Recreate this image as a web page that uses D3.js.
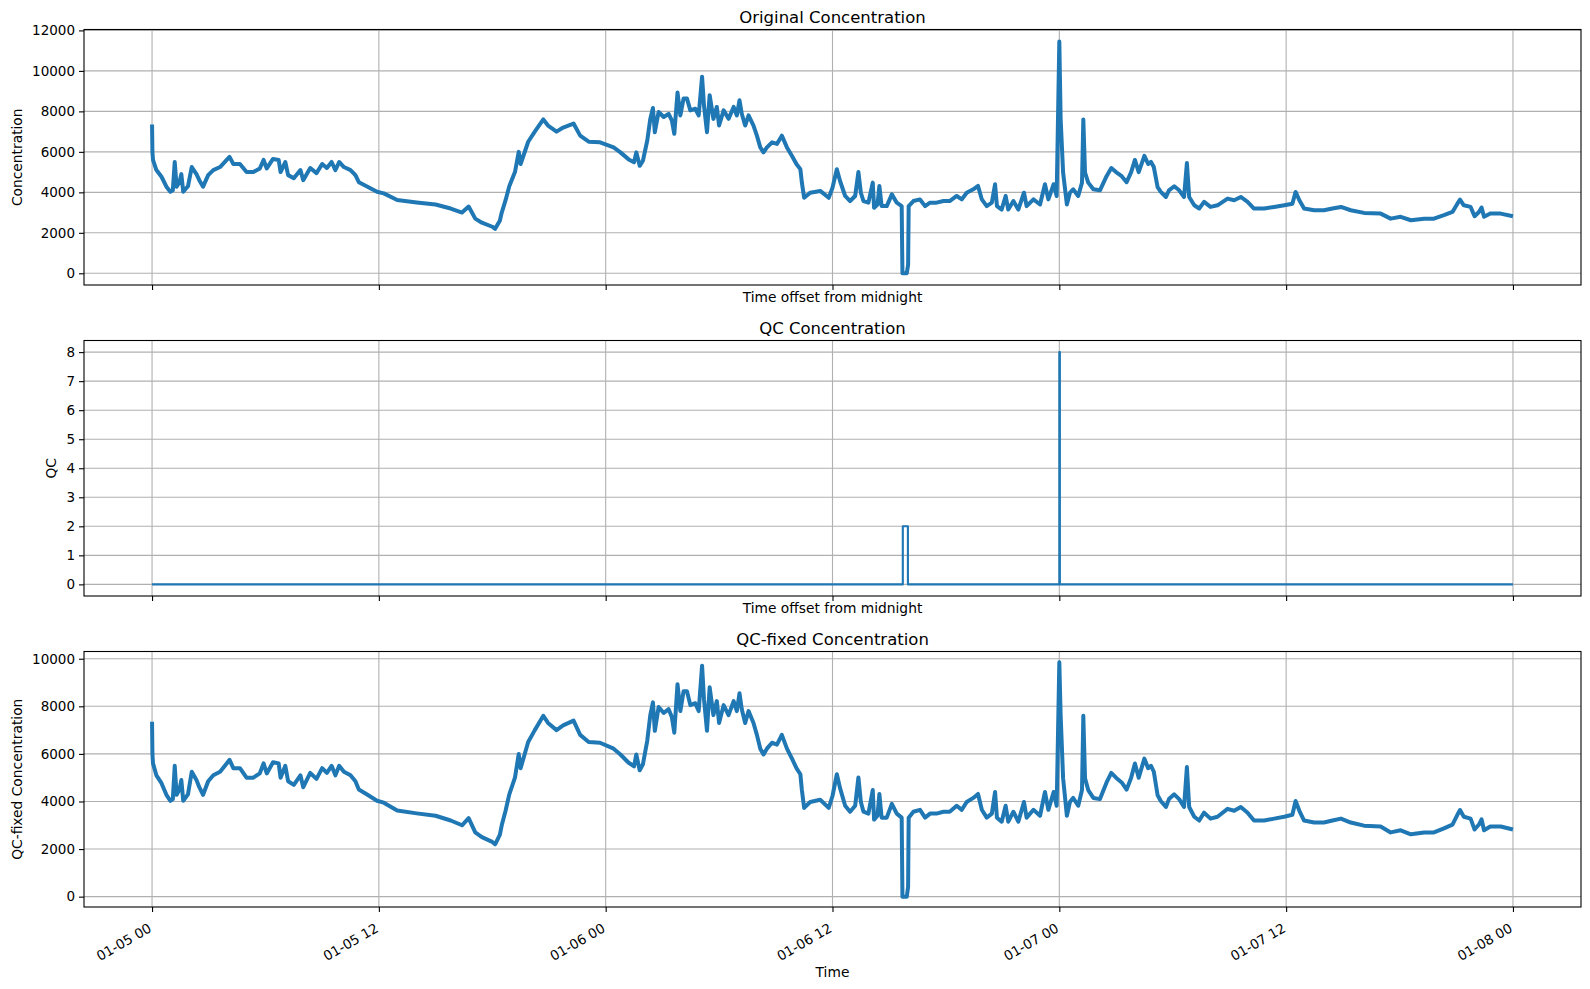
<!DOCTYPE html>
<html>
<head>
<meta charset="utf-8">
<script src="https://cdn.jsdelivr.net/npm/d3@7"></script>
<style>
  body { margin: 0; background: #fff; }
  svg { font-family: "DejaVu Sans", sans-serif; }
  .grid line { stroke: #b0b0b0; stroke-width: 1.1; }
  .tick line { stroke: #000; stroke-width: 1.1; }
  .series { fill: none; stroke: #1f77b4; stroke-linejoin: round; stroke-linecap: butt; }
</style>
</head>
<body>
<script>
// hours after 01-05 00:00
var hours = [0.00, 0.02, 0.05, 0.23, 0.50, 0.76, 0.97, 1.10, 1.20, 1.30, 1.45, 1.55, 1.65, 1.90, 2.10, 2.35, 2.50, 2.70, 2.97, 3.24,
  3.60, 3.95, 4.10, 4.30, 4.65, 5.00, 5.36, 5.70, 5.90, 6.07, 6.40, 6.70, 6.80, 7.05, 7.20, 7.50, 7.85, 8.00, 8.37, 8.70,
  9.00, 9.25, 9.50, 9.70, 9.90, 10.15, 10.50, 10.76, 10.94, 11.40, 11.90, 12.26, 12.97, 14.0, 15.0, 15.8, 16.4, 16.75, 17.1, 17.45,
  18.0, 18.15, 18.4, 18.5, 18.7, 18.9, 19.2, 19.4, 19.5, 19.9, 20.25, 20.7, 20.95, 21.4, 21.75, 22.3, 22.65, 23.1, 23.7, 24.42,
  24.78, 25.2, 25.5, 25.62, 25.8, 25.97, 26.2, 26.36, 26.5, 26.6, 26.8, 27.07, 27.33, 27.5, 27.63, 27.8, 27.95, 28.12, 28.3, 28.48,
  28.74, 28.92, 29.1, 29.2, 29.36, 29.5, 29.7, 29.88, 30.0, 30.24, 30.5, 30.77, 30.94, 31.08, 31.2, 31.38, 31.56, 31.82, 32.0, 32.18,
  32.35, 32.53, 32.8, 33.06, 33.32, 33.59, 33.85, 34.1, 34.3, 34.38, 34.5, 34.82, 35.35, 35.8, 36.0, 36.23, 36.4, 36.67, 36.93, 37.2,
  37.37, 37.5, 37.64, 37.9, 38.13, 38.2, 38.38, 38.48, 38.6, 38.87, 39.14, 39.4, 39.66, 39.7, 39.93, 40.0, 40.03, 40.28, 40.63, 40.9,
  41.16, 41.5, 41.87, 42.2, 42.57, 42.84, 43.1, 43.45, 43.7, 43.9, 44.16, 44.43, 44.6, 44.7, 44.95, 45.16, 45.3, 45.57, 45.83, 46.13,
  46.27, 46.63, 46.98, 47.24, 47.42, 47.7, 47.86, 48.0, 48.07, 48.2, 48.4, 48.56, 48.73, 49.0, 49.2, 49.27, 49.36, 49.53, 49.8, 50.15,
  50.5, 50.75, 51.0, 51.3, 51.56, 51.8, 52.0, 52.2, 52.5, 52.7, 52.85, 53.0, 53.2, 53.37, 53.64, 53.8, 54.08, 54.34, 54.6, 54.75,
  54.87, 55.14, 55.4, 55.66, 56.0, 56.37, 56.9, 57.25, 57.6, 57.96, 58.3, 58.84, 59.37, 59.9, 60.33, 60.5, 60.7, 60.95, 61.48, 62.0,
  62.45, 62.9, 63.42, 64.12, 65.0, 65.53, 66.06, 66.6, 67.3, 67.82, 68.35, 68.8, 69.06, 69.2, 69.4, 69.76, 69.97, 70.2, 70.34, 70.47,
  70.8, 71.35, 72.0];

var concentration = [7350, 6000, 5600, 5100, 4770, 4280, 4030, 4100, 5500, 4280, 4500, 4900, 4030, 4300, 5250, 4900, 4600, 4280, 4850, 5100,
  5250, 5600, 5750, 5400, 5400, 5000, 5000, 5180, 5600, 5180, 5650, 5600, 5000, 5500, 4850, 4700, 5100, 4600, 5200, 4950,
  5400, 5200, 5500, 5100, 5500, 5250, 5100, 4850, 4500, 4280, 4030, 3950, 3620, 3500, 3400, 3200, 3000, 3300, 2700, 2500,
  2300, 2200, 2600, 3000, 3600, 4300, 5000, 6000, 5400, 6500, 7000, 7600, 7300, 7000, 7200, 7400, 6800, 6500, 6470, 6220,
  5975, 5640, 5480, 5975, 5310, 5560, 6560, 7630, 8165, 6970, 7970, 7720, 7880, 7550, 6890, 8930, 7800, 8630, 8630, 8050,
  8130, 7800, 9710, 8300, 6970, 8800, 7630, 8220, 7300, 8050, 7630, 8220, 7800, 8550, 7880, 7300, 7800, 7300, 6800, 6220,
  5975, 6220, 6470, 6390, 6800, 6220, 5810, 5390, 5145, 4480, 3730, 3980, 4070, 3730, 4230, 5145, 4560, 3820, 3570, 3820,
  5010, 3980, 3570, 3490, 4480, 3240, 3400, 4315, 3320, 3320, 3900, 3490, 3320, 0, 0, 415, 3320, 3570, 3650, 3320,
  3490, 3490, 3570, 3570, 3820, 3650, 3980, 4150, 4315, 3650, 3320, 3490, 4400, 3320, 3150, 3820, 3150, 3570, 3150, 3980,
  3320, 3650, 3400, 4400, 3650, 4400, 3820, 11450, 7630, 4980, 3400, 3980, 4150, 3820, 4480, 7600, 4980, 4480, 4150, 4100,
  4800, 5200, 5000, 4800, 4500, 5000, 5600, 5000, 5800, 5400, 5500, 5250, 4260, 4020, 3770, 4100, 4300, 4100, 3770, 5445,
  3770, 3360, 3200, 3530, 3280, 3360, 3690, 3610, 3770, 3530, 3200, 3200, 3280, 3360, 3440, 4020, 3610, 3200, 3115, 3115,
  3200, 3280, 3115, 2985, 2950, 2700, 2790, 2620, 2700, 2700, 2870, 3030, 3440, 3640, 3360, 3280, 2820, 3030, 3250, 2790,
  2950, 2950, 2820];

// QC flag steps (value holds until the next hour)
var qcHours = [0, 39.72, 39.99, 48.0, 48.03, 72.0];
var qcFlags = [0, 2, 0, 8, 0, 0];

// values replaced by the QC fix
var fixedHours = [48.0];
var fixedValues = [9850];

var concTicks = [0, 2000, 4000, 6000, 8000, 10000, 12000];
var qcTicks = [0, 1, 2, 3, 4, 5, 6, 7, 8];
var fixedTicks = [0, 2000, 4000, 6000, 8000, 10000];

var titles = ["Original Concentration", "QC Concentration", "QC-fixed Concentration"];
var yLabels = ["Concentration", "QC", "QC-fixed Concentration"];
var xLabels = ["Time offset from midnight", "Time offset from midnight", "Time"];

var WIDTH = 1590;
var HEIGHT = 989;
var LEFT = 84;
var RIGHT = 1581;
var TOP = 29.5;
var PANEL_H = 255.5;
var PANEL_STEP = 311;
var TICK_FONT = 13.5;

var start = Date.UTC(2021, 0, 5);
var HOUR = 3600 * 1000;
var toDate = function (h) { return new Date(start + h * HOUR); };

var translate = function (x, y) {
  return "translate(" + x + "," + y + ")";
};

var fixedConcentration = concentration.map(function (v, i) {
  var k = fixedHours.indexOf(hours[i]);
  return k >= 0 ? fixedValues[k] : v;
});

var panels = [
  {x: hours, y: concentration, ticks: concTicks, domain: [-578, 12045], curve: d3.curveLinear, width: 4, ylabelX: 21.5},
  {x: qcHours, y: qcFlags, ticks: qcTicks, domain: [-0.4, 8.4], curve: d3.curveStepAfter, width: 2.1, ylabelX: 56},
  {x: hours, y: fixedConcentration, ticks: fixedTicks, domain: [-435, 10304], curve: d3.curveLinear, width: 4, ylabelX: 21.5}
];

var xScale = d3.scaleUtc()
  .domain([toDate(-3.6), toDate(75.6)])
  .range([LEFT, RIGHT]);

var xTicks = d3.range(0, 73, 12).map(toDate);

var svg = d3.select("body").append("svg")
  .attr("width", WIDTH)
  .attr("height", HEIGHT);

panels.forEach(function (p, i) {
  var top = TOP + i * PANEL_STEP;
  var bottom = top + PANEL_H;
  var yScale = d3.scaleLinear().domain(p.domain).range([bottom, top]);
  var g = svg.append("g");

  g.append("clipPath").attr("id", "clip" + i)
    .append("rect")
    .attr("x", LEFT).attr("y", top)
    .attr("width", RIGHT - LEFT).attr("height", PANEL_H);

  // grid
  var grid = g.append("g").attr("class", "grid");
  grid.selectAll("line.v").data(xTicks).enter().append("line")
    .attr("x1", function (d) { return xScale(d); })
    .attr("x2", function (d) { return xScale(d); })
    .attr("y1", top).attr("y2", bottom);
  grid.selectAll("line.h").data(p.ticks).enter().append("line")
    .attr("x1", LEFT).attr("x2", RIGHT)
    .attr("y1", function (d) { return yScale(d); })
    .attr("y2", function (d) { return yScale(d); });

  var line = d3.line()
    .curve(p.curve)
    .x(function (d, k) { return xScale(toDate(p.x[k])); })
    .y(function (d) { return yScale(d); });

  g.append("path")
    .attr("class", "series")
    .attr("clip-path", "url(#clip" + i + ")")
    .attr("stroke-width", p.width)
    .attr("d", line(p.y));

  // spines
  g.append("rect")
    .attr("x", LEFT).attr("y", top)
    .attr("width", RIGHT - LEFT).attr("height", PANEL_H)
    .attr("fill", "none").attr("stroke", "#000").attr("stroke-width", 1.1);

  var yAxis = d3.axisLeft(yScale).tickValues(p.ticks).tickSize(5).tickPadding(4)
    .tickFormat(d3.format("d"));
  var ya = g.append("g").attr("transform", translate(LEFT, 0)).call(yAxis)
    .attr("font-size", TICK_FONT).attr("font-family", null);
  ya.select(".domain").remove();
  ya.selectAll("text").attr("fill", "#000");

  var xAxis = d3.axisBottom(xScale).tickValues(xTicks).tickSize(5)
    .tickFormat(i === 2 ? d3.utcFormat("%m-%d %H") : "");
  var xa = g.append("g").attr("transform", translate(0, bottom)).call(xAxis)
    .attr("font-size", TICK_FONT).attr("font-family", null);
  xa.select(".domain").remove();
  if (i === 2) {
    xa.selectAll("text")
      .attr("fill", "#000")
      .attr("x", 0).attr("y", 0).attr("dy", null)
      .attr("text-anchor", "end")
      .attr("transform", "translate(0,24) rotate(-30)");
  }

  g.append("text")
    .attr("x", (LEFT + RIGHT) / 2).attr("y", top - 6.5)
    .attr("text-anchor", "middle")
    .attr("font-size", "16.5px")
    .text(titles[i]);

  g.append("text")
    .attr("x", (LEFT + RIGHT) / 2)
    .attr("y", i === 2 ? 976.7 : bottom + 16.5)
    .attr("text-anchor", "middle")
    .attr("font-size", "13.8px")
    .text(xLabels[i]);

  g.append("text")
    .attr("transform", translate(p.ylabelX, (top + bottom) / 2) + " rotate(-90)")
    .attr("text-anchor", "middle")
    .attr("font-size", "13.8px")
    .text(yLabels[i]);
});
</script>
</body>
</html>
